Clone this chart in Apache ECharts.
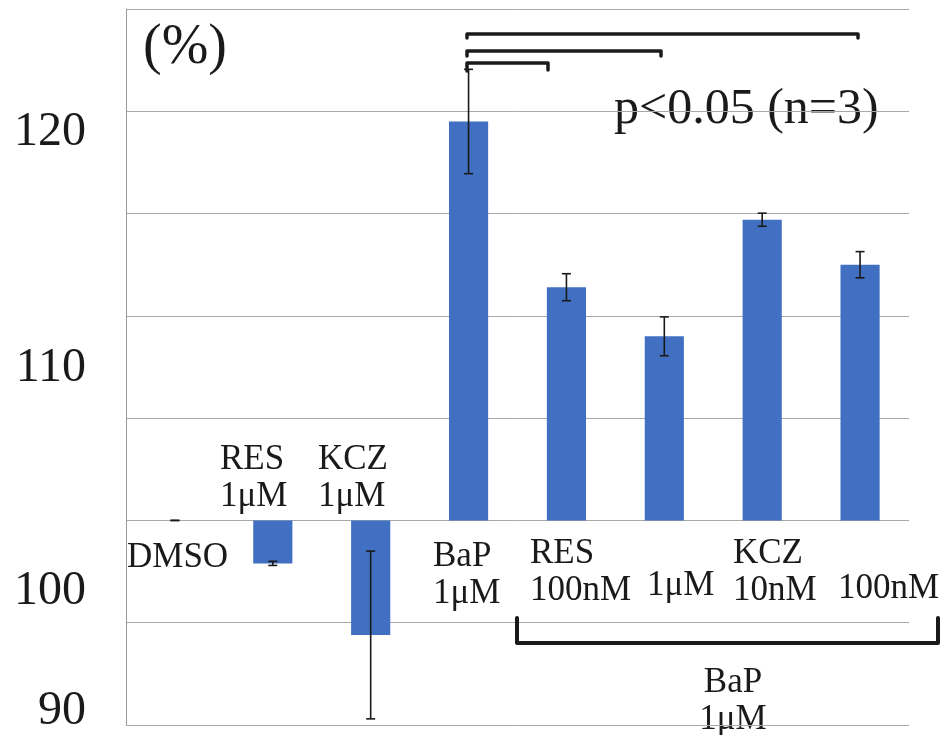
<!DOCTYPE html>
<html>
<head>
<meta charset="utf-8">
<script src="https://cdn.jsdelivr.net/npm/echarts@6/dist/echarts.min.js"></script>
<style>
  html, body { margin: 0; padding: 0; background: #fff; }
  #chart { width: 947px; height: 735px; }
</style>
</head>
<body>
<div id="chart"></div>
<script>
// groups, left to right
const categories = ['DMSO', 'RES 1μM', 'KCZ 1μM', 'BaP 1μM', 'BaP+RES 100nM', 'BaP+RES 1μM', 'BaP+KCZ 10nM', 'BaP+KCZ 100nM']
// relative value (%), DMSO = 100
const values = [100, 97.9, 94.4, 119.5, 111.4, 109.0, 114.7, 112.5]
// error (SD)
const errors = [0, 0.1, 4.1, 2.55, 0.66, 0.95, 0.32, 0.64]
// y tick labels and their drift from the grid line in the figure (px)
const yTickLabels = [90, 100, 110, 120]
const yLabelShift = [-14, 71, 53, 21]

const FONT = 'Liberation Serif'
const INK = '#1a1a1a'
const BAR = '#4170c2'

const chart = echarts.init(document.getElementById('chart'))

const rich = {}
yTickLabels.forEach((t, i) => {
  const s = yLabelShift[i]
  rich['y' + t] = {
    fontFamily: FONT,
    fontSize: 48,
    color: INK,
    padding: s > 0 ? [2 * s, 0, 0, 0] : [0, 0, -2 * s, 0],
  }
})

function annot(text, x, y, align) {
  return {
    type: 'text',
    x: x,
    y: y,
    style: {
      text: text,
      fontFamily: FONT,
      fontSize: 35,
      lineHeight: 37,
      fill: INK,
      align: align || 'left',
      verticalAlign: 'middle',
    },
  }
}

function bracket(points, w) {
  return {
    type: 'polyline',
    shape: { points: points },
    style: { stroke: INK, lineWidth: w || 3.5, fill: null, lineJoin: 'round', lineCap: 'round' },
    z: 10,
  }
}

chart.setOption({
  animation: false,
  backgroundColor: '#fff',
  grid: { left: 126, right: 38, top: 9, bottom: 10 },
  xAxis: {
    type: 'category',
    data: categories,
    axisLine: { show: false },
    axisTick: { show: false },
    axisLabel: { show: false },
  },
  yAxis: {
    type: 'value',
    min: 90,
    max: 125,
    interval: 5,
    axisLine: { show: true, lineStyle: { color: '#9a9a9a', width: 1 } },
    axisTick: { show: false },
    splitLine: { lineStyle: { color: '#a8a8a8', width: 1 } },
    axisLabel: {
      margin: 40,
      formatter: (v) => (yTickLabels.includes(v) ? '{y' + v + '|' + v + '}' : ''),
      rich: rich,
    },
  },
  series: [
    {
      type: 'custom',
      name: 'bars',
      data: values.map((v, i) => [i, v]),
      renderItem: (params, api) => {
        const base = api.coord([api.value(0), 100])
        const top = api.coord([api.value(0), api.value(1)])
        const w = api.size([1, 0])[0] * 0.4
        return {
          type: 'rect',
          shape: {
            x: base[0] - w / 2,
            y: Math.min(base[1], top[1]),
            width: w,
            height: Math.abs(base[1] - top[1]),
          },
          style: { fill: BAR },
        }
      },
      z: 2,
    },
    {
      type: 'custom',
      name: 'error',
      data: values.map((v, i) => [i, v - errors[i], v + errors[i]]),
      renderItem: (params, api) => {
        const lo = api.coord([api.value(0), api.value(1)])
        const hi = api.coord([api.value(0), api.value(2)])
        const c = 4.5
        const ls = { stroke: INK, lineWidth: 1.6 }
        return {
          type: 'group',
          children: [
            { type: 'line', shape: { x1: lo[0], y1: lo[1], x2: hi[0], y2: hi[1] }, style: ls },
            { type: 'line', shape: { x1: lo[0] - c, y1: lo[1], x2: lo[0] + c, y2: lo[1] }, style: ls },
            { type: 'line', shape: { x1: hi[0] - c, y1: hi[1], x2: hi[0] + c, y2: hi[1] }, style: ls },
          ],
        }
      },
      z: 3,
    },
  ],
  graphic: [
    {
      type: 'text',
      x: 143,
      y: 48,
      style: { text: '(%)', fontFamily: FONT, fontSize: 56, fill: INK, verticalAlign: 'middle' },
    },
    {
      type: 'text',
      x: 614,
      y: 110,
      style: { text: 'p<0.05 (n=3)', fontFamily: FONT, fontSize: 50, fill: INK, verticalAlign: 'middle' },
    },
    annot('RES\n1μM', 220, 478),
    annot('KCZ\n1μM', 318, 478),
    annot('DMSO', 127, 558),
    annot('BaP\n1μM', 433, 575),
    annot('RES\n100nM', 530, 572),
    annot('1μM', 647, 586),
    annot('KCZ\n10nM', 733, 572),
    annot('100nM', 838, 589),
    annot('BaP\n1μM', 733, 701, 'center'),
    bracket([[467, 38], [467, 34], [858, 34], [858, 38]]),
    bracket([[467, 56], [467, 51], [661, 51], [661, 56]]),
    bracket([[467, 71], [467, 63], [548, 63], [548, 70]]),
    bracket([[517, 618], [517, 643], [938, 643], [938, 618]], 4),
  ],
})
</script>
</body>
</html>
